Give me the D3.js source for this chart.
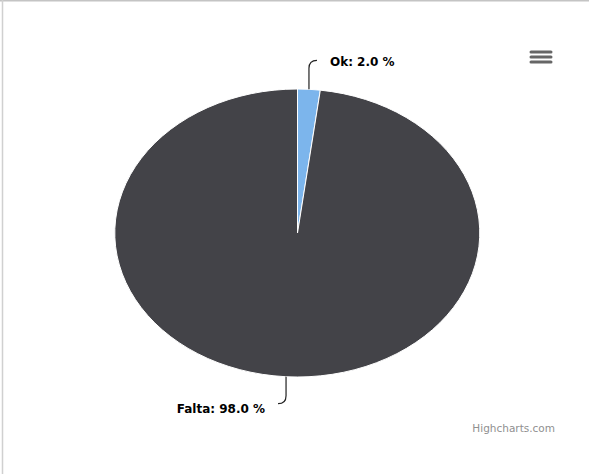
<!DOCTYPE html>
<html>
<head>
<meta charset="utf-8">
<script src="https://cdn.jsdelivr.net/npm/d3@7"></script>
<style>
  html, body { margin: 0; padding: 0; background: #fff; }
  svg { display: block; }
</style>
</head>
<body>
<svg id="chart" width="589" height="474"></svg>
<script>
const categories = ["Ok", "Falta"];
const values = [2.0, 98.0];
const colors = ["#7cb5ec", "#434348"];

const svg = d3.select("#chart");
const W = 589, H = 474;
const cx = 297.5, cy = 233, rx = 182.5, ry = 144;

// frame lines
svg.append("line").attr("x1", 0).attr("x2", W).attr("y1", 0.75).attr("y2", 0.75)
  .attr("stroke", "#c4c4c4").attr("stroke-width", 1.5);
svg.append("line").attr("x1", 2.5).attr("x2", 2.5).attr("y1", 0).attr("y2", H)
  .attr("stroke", "#d0d0d0").attr("stroke-width", 1.5);

const pie = d3.pie().sort(null).value(d => d.v);
const data = pie(categories.map((c, i) => ({ c, v: values[i], col: colors[i] })));
const arc = d3.arc().innerRadius(0).outerRadius(1);

const g = svg.append("g").attr("transform", `translate(${cx},${cy}) scale(${rx},${ry})`);
g.selectAll("path").data(data).enter().append("path")
  .attr("d", arc)
  .attr("fill", d => d.data.col)
  .attr("stroke", "#ffffff")
  .attr("stroke-width", 1)
  .attr("vector-effect", "non-scaling-stroke");

// labels with connectors
const dist = 30;
data.forEach(d => {
  const a = (d.startAngle + d.endAngle) / 2;
  const ex = cx + rx * Math.sin(a), ey = cy - ry * Math.cos(a);
  const right = Math.sin(a) >= 0;
  const up = Math.cos(a) > 0;
  const ly = cy - (ry + dist) * Math.cos(a) + (up ? 1 : -3);
  const endX = ex + (right ? 8 : -8);
  const bend = up ? 8 : -8;
  svg.append("path")
    .attr("d", `M${ex},${ey} L${ex},${ly + bend} Q${ex},${ly} ${endX},${ly}`)
    .attr("fill", "none").attr("stroke", "#222").attr("stroke-width", 1.2);
  svg.append("text")
    .attr("x", endX + (right ? 13 : -13))
    .attr("y", ly + (up ? 2 : 6))
    .attr("dominant-baseline", "middle")
    .attr("text-anchor", right ? "start" : "end")
    .attr("font-family", "DejaVu Sans, Verdana, sans-serif")
    .attr("font-weight", "bold")
    .attr("font-size", 12)
    .attr("fill", "#000")
    .text(`${d.data.c}: ${d.data.v.toFixed(1)} %`);
});

// menu icon
[52, 57, 62].forEach(y => {
  svg.append("line").attr("x1", 531).attr("x2", 551).attr("y1", y).attr("y2", y)
    .attr("stroke", "#666").attr("stroke-width", 3).attr("stroke-linecap", "round");
});

// credits
svg.append("text").attr("x", 555).attr("y", 432)
  .attr("text-anchor", "end")
  .attr("font-family", "DejaVu Sans, Verdana, sans-serif")
  .attr("font-size", 10.5)
  .attr("fill", "#909090")
  .text("Highcharts.com");
</script>
</body>
</html>
